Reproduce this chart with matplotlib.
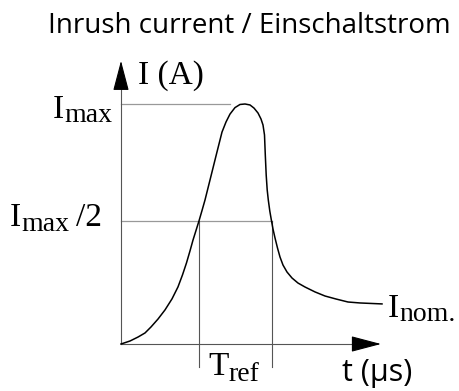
import numpy as np
import matplotlib
matplotlib.use("Agg")
import matplotlib.pyplot as plt

plt.rcParams['font.family'] = ['Liberation Serif', 'DejaVu Serif']

# inrush curve (t in arbitrary us, I in arbitrary A)
t_curve = [0.0, 0.9, 1.7, 2.4, 3.0, 3.7, 4.4, 5.1, 5.7, 6.15, 6.55, 6.9, 7.2, 7.5,
           7.8, 8.1, 8.4, 9.0, 9.55, 10.1, 10.5, 10.9, 11.4, 11.9, 12.4, 12.9,
           13.3, 13.7, 14.0, 14.2, 14.35, 14.43, 14.52, 14.62, 14.73, 14.88,
           15.05, 15.2, 15.4, 15.65, 15.9, 16.2, 16.6, 17.1, 17.7, 18.4, 19.4,
           20.4, 21.5, 22.7, 23.9, 25.0, 26.1]
i_curve = [0.0, 0.125, 0.29, 0.46, 0.71, 1.04, 1.42, 1.88, 2.38, 2.88, 3.38, 3.88,
           4.33, 4.73, 5.13, 5.56, 6.0, 7.0, 7.92, 8.83, 9.25, 9.58, 9.85, 9.98,
           10.0, 9.96, 9.83, 9.625, 9.375, 9.125, 8.71, 7.875, 7.04, 6.42, 6.0,
           5.54, 5.13, 4.79, 4.42, 4.0, 3.625, 3.29, 3.0, 2.75, 2.54, 2.375, 2.17,
           2.0, 1.875, 1.75, 1.71, 1.69, 1.67]

i_max = 10.0
i_half = 5.13
t_ref = [7.8, 15.05]     # where the curve crosses I_max/2
t_imax_end = 10.9
t_axis_end = 26.0
i_axis_end = 11.8

title = "Inrush current / Einschaltstrom"

fig = plt.figure(figsize=(4.59, 3.91), dpi=100)
ax = fig.add_axes([0, 0, 1, 1])
ax.set_xlim(-12.1, 33.8)
ax.set_ylim(-1.958, 14.333)
ax.axis('off')

grey = '#555555'
light = '#999999'

# helper lines
ax.plot([0, t_imax_end], [i_max, i_max], color=light, lw=0.9)
ax.plot([0, t_ref[1]], [i_half, i_half], color=light, lw=0.9)
for tr in t_ref:
    ax.plot([tr, tr], [i_half, -0.96], color=grey, lw=0.8)

# axes: grey shaft, black arrow head
ax.plot([0, t_axis_end - 1], [0, 0], color=grey, lw=0.8)
ax.plot([0, 0], [0, i_axis_end - 0.5], color=grey, lw=0.8)
head = dict(arrowstyle='-|>,head_length=1.9,head_width=0.5', mutation_scale=10,
            color='black', lw=0.8, shrinkA=0, shrinkB=0)
ax.annotate('', xy=(t_axis_end, 0), xytext=(t_axis_end - 1, 0), arrowprops=head)
ax.annotate('', xy=(0, i_axis_end), xytext=(0, i_axis_end - 0.5), arrowprops=head)

# curve
ax.plot(t_curve, i_curve, color='black', lw=1.1, solid_joinstyle='round')

renderer = fig.canvas.get_renderer()


def sub_label(x, y, main, sub, tail='', size=24, sub_size=20, drop=3):
    t1 = ax.text(x, y, main, fontsize=size, va='baseline')
    x1 = t1.get_window_extent(renderer).x1
    xd = ax.transData.inverted().transform((x1, 0))[0]
    t2 = ax.annotate(sub, (xd, y), xytext=(0, -drop), textcoords='offset points',
                     fontsize=sub_size, va='baseline')
    if tail:
        x2 = t2.get_window_extent(renderer).x1
        xd2 = ax.transData.inverted().transform((x2, 0))[0]
        ax.annotate(tail, (xd2, y), xytext=(5, 0), textcoords='offset points',
                    fontsize=size, va='baseline')


# labels
fig.text(0.5425, 0.916, title, family=['Open Sans', 'DejaVu Sans'], fontsize=20,
         ha='center', va='baseline')
ax.text(1.7, 10.85, 'I (A)', fontsize=24, va='baseline')
sub_label(-6.8, 9.42, 'I', 'max')
sub_label(-11.1, 4.9, 'I', 'max', '/2')
sub_label(8.7, -1.29, 'T', 'ref', drop=4)
sub_label(26.7, 1.12, 'I', 'nom.')
ax.text(22.1, -1.55, 't (μs)', family=['Open Sans', 'DejaVu Sans'], fontsize=22,
        ha='left', va='baseline')

fig.savefig('out.png', dpi=100)
